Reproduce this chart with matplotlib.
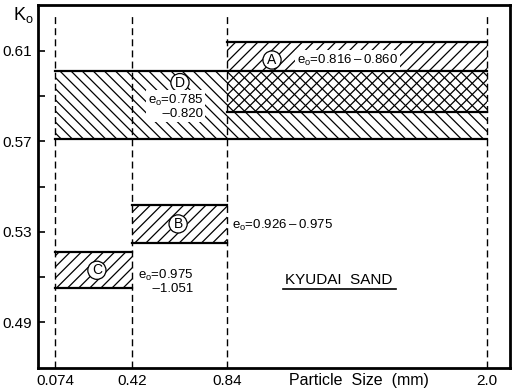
import matplotlib.pyplot as plt

plt.rcParams['font.family'] = ['Liberation Sans', 'DejaVu Sans']
plt.rcParams['mathtext.fontset'] = 'custom'
plt.rcParams['mathtext.rm'] = 'Liberation Sans'
plt.rcParams['hatch.linewidth'] = 0.9

# particle size boundaries (mm) and where they sit along the x axis
sizes = ['0.074', '0.42', '0.84', '2.0']
size_pos = [0.036, 0.199, 0.400, 0.951]

# Ko ranges for each sample
band_names = ['A', 'B', 'C', 'D']
band_start = [2, 1, 0, 0]
band_end = [3, 2, 1, 3]
band_lo = [0.583, 0.525, 0.505, 0.571]
band_hi = [0.614, 0.542, 0.521, 0.601]
band_hatch = ['///', '///', '///', '\\\\\\']
eo_text = ['$\\mathregular{e_o}$=0.816\u2009–\u20090.860',
           '$\\mathregular{e_o}$=0.926\u2009–\u20090.975',
           '$\\mathregular{e_o}$=0.975\n    –1.051',
           '$\\mathregular{e_o}$=0.785\n    –0.820']

fig = plt.figure(figsize=(5.12, 3.9), dpi=100)
ax = fig.add_axes([0.074, 0.056, 0.922, 0.931])

for i, name in enumerate(band_names):
    x0 = size_pos[band_start[i]]
    x1 = size_pos[band_end[i]]
    ax.fill_between([x0, x1], band_lo[i], band_hi[i], facecolor='none',
                    edgecolor='black', linewidth=0, hatch=band_hatch[i])
    ax.plot([x0, x1], [band_lo[i], band_lo[i]], color='black', lw=1.6)
    ax.plot([x0, x1], [band_hi[i], band_hi[i]], color='black', lw=1.6)

for p in size_pos:
    ax.plot([p, p], [0.4697, 0.626], color='black', lw=1.0,
            linestyle=(0, (5, 3)))

circ = dict(boxstyle='circle,pad=0.15', fc='white', ec='black', lw=0.9)
letter_xy = {'A': (0.496, 0.606), 'B': (0.297, 0.5335),
             'C': (0.125, 0.513), 'D': (0.301, 0.596)}
for name, (lx, ly) in letter_xy.items():
    ax.text(lx, ly, name, ha='center', va='center', fontsize=10, bbox=circ)

white = dict(boxstyle='square,pad=0.15', fc='white', ec='none')
eo_xy = [(0.549, 0.606), (0.411, 0.533), (0.212, 0.508), (0.233, 0.5855)]
for t, (tx, ty) in zip(eo_text, eo_xy):
    ax.text(tx, ty, t, ha='left', va='center', fontsize=9.5,
            linespacing=1.05, bbox=white)

ax.text(0.638, 0.5085, 'KYUDAI  SAND', ha='center', va='center', fontsize=11)
ax.plot([0.52, 0.758], [0.5045, 0.5045], color='black', lw=1.2)

ax.set_xlim(0, 1)
ax.set_ylim(0.4697, 0.6303)
ax.set_xticks(size_pos)
ax.set_xticklabels(sizes, fontsize=11)
ax.get_xticklabels()[0].set_x(size_pos[0] + 0.012)
ax.tick_params(axis='x', length=0, pad=4)
ax.set_yticks([0.49, 0.53, 0.57, 0.61])
ax.set_yticklabels(['0.49', '0.53', '0.57', '0.61'], fontsize=11)
ax.set_yticks([0.51, 0.55, 0.59], minor=True)
ax.tick_params(axis='y', which='both', direction='in', length=5, width=1.2, pad=4)
for s in ax.spines.values():
    s.set_linewidth(2)

ax.text(0.68, -0.033, 'Particle  Size  (mm)', transform=ax.transAxes,
        ha='center', va='center', fontsize=11.5)
fig.text(0.045, 0.962, '$\\mathregular{K_o}$', ha='center', va='center', fontsize=13)

fig.savefig('out.png', dpi=100)
